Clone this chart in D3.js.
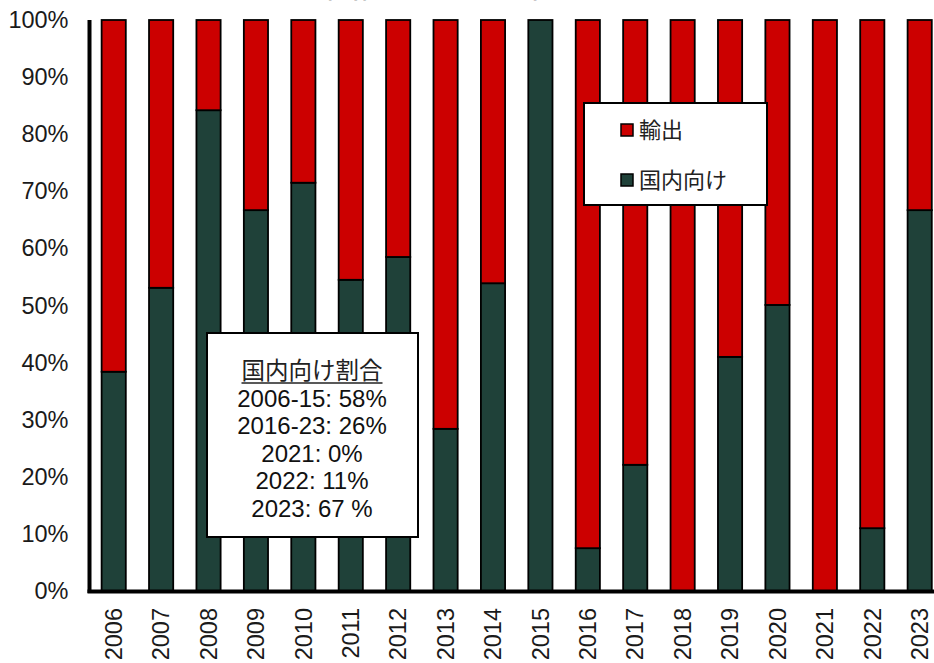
<!DOCTYPE html>
<html>
<head>
<meta charset="utf-8">
<script src="https://cdn.jsdelivr.net/npm/d3@7/dist/d3.min.js"></script>
<style>
  html, body { margin: 0; padding: 0; background: #fff; }
  svg { display: block; }
</style>
</head>
<body>
<svg id="chart" width="934" height="663"></svg>
<script>
// Share of domestic shipments vs exports by year (percent)
const years = ["2006","2007","2008","2009","2010","2011","2012","2013","2014","2015",
               "2016","2017","2018","2019","2020","2021","2022","2023"];
const domesticShare = [38.4, 53.1, 84.2, 66.7, 71.5, 54.5, 58.5, 28.4, 53.9, 100,
                       7.5, 22.1, 0, 41.0, 50.1, 0, 11.0, 66.7];
const exportShare = domesticShare.map(d => 100 - d);
const yTicks = [0, 10, 20, 30, 40, 50, 60, 70, 80, 90, 100];
const seriesNames = ["輸出", "国内向け"];
const seriesColors = ["#cc0000", "#1f4139"];
const noteTitle = "国内向け割合";
const noteLines = ["2006-15: 58%", "2016-23: 26%", "2021: 0%", "2022: 11%", "2023: 67 %"];
const chartTitle = "国内向けと輸出の割合";

const svg = d3.select("#chart");
const latin = "'Liberation Sans', Arial, sans-serif";
const cjk = "'Noto Sans CJK JP', 'Noto Sans', sans-serif";

const x = d3.scaleBand().domain(years).range([90, 943.4]).paddingInner(0.49).paddingOuter(0.245);
const y = d3.scaleLinear().domain([0, 100]).range([591, 20]);

// Title (sits mostly above the visible area)
svg.append("text")
  .attr("x", 496).attr("y", -3)
  .attr("text-anchor", "middle")
  .attr("font-family", cjk).attr("font-size", 34)
  .attr("fill", "#222")
  .text(chartTitle);

// Stack: domestic at bottom, exports on top
const rows = years.map((yr, i) => ({ year: yr, domestic: domesticShare[i], exports: exportShare[i] }));
const stack = d3.stack().keys(["domestic", "exports"])(rows);
const colorOf = { domestic: seriesColors[1], exports: seriesColors[0] };

svg.append("g").selectAll("g")
  .data(stack)
  .join("g")
  .attr("fill", d => colorOf[d.key])
  .selectAll("rect")
  .data(d => d.filter(p => p[1] - p[0] > 0))
  .join("rect")
  .attr("x", d => x(d.data.year))
  .attr("width", x.bandwidth())
  .attr("y", d => y(d[1]))
  .attr("height", d => y(d[0]) - y(d[1]))
  .attr("stroke", "#000")
  .attr("stroke-width", 1.8);

// Axes
const yAxis = d3.axisLeft(y).tickValues(yTicks).tickSize(0).tickPadding(21).tickFormat(d => d + "%");
const gy = svg.append("g").attr("transform", "translate(89.5,0)").call(yAxis);
gy.select(".domain").remove();
gy.selectAll("text").attr("font-family", latin).attr("font-size", 23.5).attr("fill", "#1a1a1a");

svg.append("line")
  .attr("x1", 89.5).attr("x2", 89.5).attr("y1", y(100)).attr("y2", y(0) + 2)
  .attr("stroke", "#000").attr("stroke-width", 4);

const xAxis = d3.axisBottom(x).tickSize(0).tickPadding(0);
const gx = svg.append("g").attr("transform", `translate(0,${y(0)})`).call(xAxis);
gx.select(".domain").remove();
gx.selectAll("text")
  .attr("font-family", latin).attr("font-size", 23.5).attr("fill", "#1a1a1a")
  .attr("transform", "translate(0,17) rotate(-90)")
  .attr("text-anchor", "end")
  .attr("dy", "0.35em").attr("dx", 0).attr("y", 0);

svg.append("line")
  .attr("x1", 87.5).attr("x2", 934).attr("y1", y(0) + 0.5).attr("y2", y(0) + 0.5)
  .attr("stroke", "#000").attr("stroke-width", 4);

// Legend
const legend = svg.append("g");
legend.append("rect")
  .attr("x", 584).attr("y", 103).attr("width", 183).attr("height", 102)
  .attr("fill", "#fff").attr("stroke", "#000").attr("stroke-width", 2);
seriesNames.forEach((name, i) => {
  const cy = 130 + i * 50;
  legend.append("rect")
    .attr("x", 621).attr("y", cy - 6).attr("width", 12).attr("height", 12)
    .attr("fill", seriesColors[i]).attr("stroke", "#000").attr("stroke-width", 1.5);
  legend.append("text")
    .attr("x", 639).attr("y", cy).attr("dy", "0.36em")
    .attr("font-family", cjk).attr("font-size", 22).attr("fill", "#222")
    .text(name);
});

// Annotation box
const note = svg.append("g");
note.append("rect")
  .attr("x", 207).attr("y", 333).attr("width", 211).attr("height", 204)
  .attr("fill", "#fff").attr("stroke", "#000").attr("stroke-width", 2);
const noteCx = 312;
const noteHead = note.append("text")
  .attr("x", noteCx).attr("y", 371).attr("dy", "0.36em")
  .attr("text-anchor", "middle")
  .attr("font-family", cjk).attr("font-size", 23.5).attr("fill", "#222")
  .text(noteTitle);
const hb = noteHead.node().getBBox();
note.append("line")
  .attr("x1", hb.x).attr("x2", hb.x + hb.width)
  .attr("y1", 383).attr("y2", 383)
  .attr("stroke", "#222").attr("stroke-width", 1.5);
noteLines.forEach((t, i) => {
  note.append("text")
    .attr("x", noteCx).attr("y", 398 + i * 27.5).attr("dy", "0.36em")
    .attr("text-anchor", "middle")
    .attr("font-family", latin).attr("font-size", 24).attr("fill", "#111")
    .text(t);
});
</script>
</body>
</html>
